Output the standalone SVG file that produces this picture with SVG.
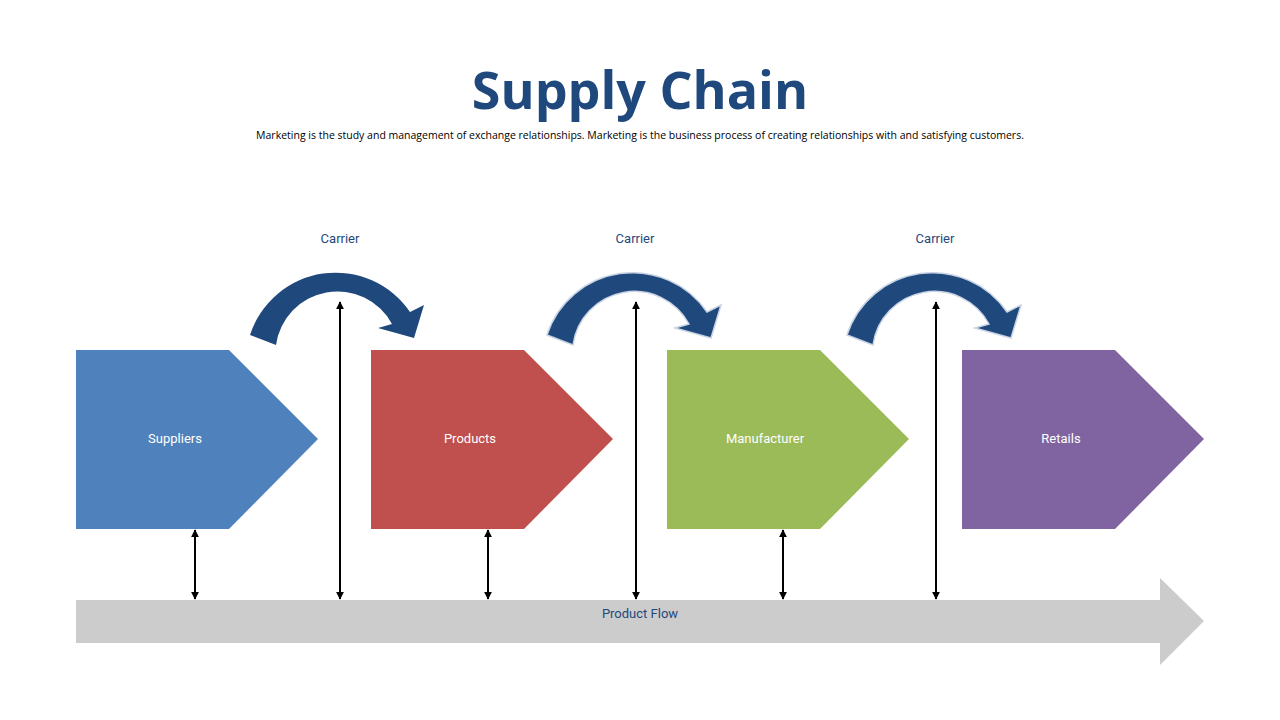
<svg xmlns="http://www.w3.org/2000/svg" width="1280" height="720" viewBox="0 0 1280 720">
<defs>
<marker id="ah" viewBox="0 0 10 10" refX="9" refY="5" markerWidth="4" markerHeight="4" orient="auto-start-reverse"><path d="M0,0 L10,5 L0,10 Z" fill="#000"/></marker>
<path id="curve" d="M250,335 A90,90 0 0 1 410,312 L424,305 L414,338 L378,328 L392,324 A62,62 0 0 0 276,345 Z"/>
</defs>
<style>
.lbl{font-family:Roboto,"Liberation Sans",sans-serif;font-size:13px;text-anchor:middle}
.w{fill:#fff}.b{fill:#1F497D}
.vl{stroke:#000;stroke-width:2;marker-start:url(#ah);marker-end:url(#ah)}
.cv{fill:#1F497D}
</style>
<rect width="1280" height="720" fill="#fff"/>
<text x="640" y="109" text-anchor="middle" font-family="'Open Sans','Liberation Sans',sans-serif" font-weight="bold" font-size="52" fill="#1F497D">Supply Chain</text>
<text x="640" y="139" text-anchor="middle" font-family="'Open Sans','Liberation Sans',sans-serif" font-size="10.5" fill="#000">Marketing is the study and management of exchange relationships. Marketing is the  business process of creating relationships with and satisfying customers.</text>
<g id="flow"><path d="M76,600 H1160 V578 L1204,621 L1160,665 V643 H76 Z" fill="#CCCCCC"/><text class="lbl b" x="640" y="618">Product Flow</text></g>
<g id="suppliers"><path d="M76,350 H229 L318,439 L229,529 H76 Z" fill="#4F81BD"/><text class="lbl w" x="175" y="443">Suppliers</text></g>
<g id="products"><path d="M371,350 H524 L613,439 L524,529 H371 Z" fill="#C0504D"/><text class="lbl w" x="470" y="443">Products</text></g>
<g id="manufacturer"><path d="M667,350 H820 L909,439 L820,529 H667 Z" fill="#9BBB59"/><text class="lbl w" x="765" y="443">Manufacturer</text></g>
<g id="retails"><path d="M962,350 H1115 L1204,439 L1115,529 H962 Z" fill="#8064A2"/><text class="lbl w" x="1061" y="443">Retails</text></g>
<g id="carrier1"><use href="#curve" class="cv"/><text class="lbl b" x="340" y="243">Carrier</text></g>
<g id="carrier2"><use href="#curve" class="cv" transform="translate(297,0)" stroke="#C9D3E3" stroke-width="1.5"/><text class="lbl b" x="635" y="243">Carrier</text></g>
<g id="carrier3"><use href="#curve" class="cv" transform="translate(597,0)" stroke="#C9D3E3" stroke-width="1.5"/><text class="lbl b" x="935" y="243">Carrier</text></g>
<g id="connectors">
<line class="vl" x1="195" y1="530" x2="195" y2="599"/>
<line class="vl" x1="488" y1="530" x2="488" y2="599"/>
<line class="vl" x1="783" y1="530" x2="783" y2="599"/>
<line class="vl" x1="340" y1="302" x2="340" y2="599"/>
<line class="vl" x1="636" y1="302" x2="636" y2="599"/>
<line class="vl" x1="936" y1="302" x2="936" y2="599"/>
</g>
</svg>
